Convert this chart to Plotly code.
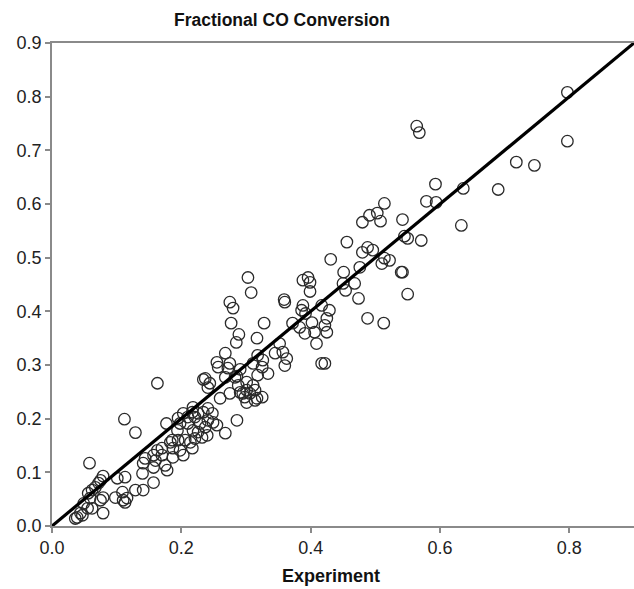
import plotly.graph_objects as go

experiment = [
    0.797, 0.797, 0.718, 0.746, 0.690, 0.636, 0.633, 0.593, 0.579, 0.594,
    0.564, 0.568, 0.542, 0.545, 0.550, 0.571, 0.542, 0.550, 0.514, 0.503,
    0.491, 0.480, 0.508, 0.456, 0.488, 0.480, 0.496, 0.431, 0.514, 0.522,
    0.510, 0.451, 0.476, 0.540, 0.450, 0.468, 0.454, 0.474, 0.488, 0.513,
    0.303, 0.308, 0.275, 0.280, 0.277, 0.328, 0.359, 0.388, 0.396, 0.399,
    0.399, 0.388, 0.386, 0.392, 0.417, 0.429, 0.425, 0.422, 0.372, 0.383,
    0.402, 0.360, 0.425, 0.406, 0.391, 0.409, 0.417, 0.422, 0.289, 0.285,
    0.317, 0.352, 0.357, 0.363, 0.360, 0.345, 0.318, 0.326, 0.325, 0.334,
    0.318, 0.275, 0.283, 0.288, 0.301, 0.311, 0.314, 0.301, 0.291, 0.298,
    0.301, 0.325, 0.317, 0.268, 0.255, 0.257, 0.268, 0.272, 0.291, 0.286,
    0.237, 0.244, 0.234, 0.241, 0.311, 0.306, 0.295, 0.275, 0.260, 0.314,
    0.163, 0.241, 0.218, 0.217, 0.203, 0.221, 0.226, 0.210, 0.195, 0.198,
    0.210, 0.234, 0.248, 0.241, 0.249, 0.255, 0.229, 0.237, 0.218, 0.226,
    0.240, 0.286, 0.268, 0.177, 0.194, 0.186, 0.195, 0.206, 0.214, 0.221,
    0.232, 0.187, 0.198, 0.217, 0.203, 0.170, 0.163, 0.157, 0.170, 0.160,
    0.144, 0.141, 0.157, 0.175, 0.187, 0.112, 0.129, 0.058, 0.140, 0.157,
    0.178, 0.183, 0.079, 0.075, 0.072, 0.067, 0.062, 0.056, 0.059, 0.049,
    0.055, 0.062, 0.044, 0.039, 0.036, 0.047, 0.079, 0.079, 0.101, 0.113,
    0.109, 0.098, 0.110, 0.116, 0.113, 0.129, 0.141, 0.075,
]
predicted = [
    0.808, 0.717, 0.678, 0.672, 0.627, 0.629, 0.560, 0.637, 0.605, 0.603,
    0.745, 0.733, 0.571, 0.540, 0.536, 0.532, 0.473, 0.432, 0.601, 0.583,
    0.579, 0.566, 0.568, 0.529, 0.519, 0.510, 0.514, 0.497, 0.499, 0.495,
    0.489, 0.473, 0.482, 0.473, 0.452, 0.452, 0.439, 0.424, 0.387, 0.378,
    0.463, 0.435, 0.417, 0.406, 0.378, 0.378, 0.422, 0.458, 0.463, 0.454,
    0.437, 0.411, 0.402, 0.396, 0.411, 0.402, 0.387, 0.374, 0.378, 0.370,
    0.379, 0.417, 0.361, 0.361, 0.359, 0.340, 0.303, 0.303, 0.357, 0.342,
    0.350, 0.340, 0.324, 0.312, 0.299, 0.322, 0.318, 0.309, 0.296, 0.284,
    0.281, 0.303, 0.277, 0.262, 0.268, 0.262, 0.253, 0.253, 0.249, 0.240,
    0.230, 0.240, 0.238, 0.322, 0.305, 0.296, 0.277, 0.294, 0.292, 0.279,
    0.275, 0.266, 0.273, 0.258, 0.303, 0.247, 0.247, 0.247, 0.238, 0.234,
    0.266, 0.219, 0.221, 0.212, 0.210, 0.203, 0.210, 0.203, 0.201, 0.191,
    0.191, 0.212, 0.210, 0.197, 0.193, 0.188, 0.191, 0.184, 0.178, 0.175,
    0.169, 0.197, 0.173, 0.191, 0.178, 0.160, 0.160, 0.160, 0.156, 0.163,
    0.165, 0.145, 0.141, 0.145, 0.132, 0.145, 0.141, 0.132, 0.132, 0.122,
    0.126, 0.117, 0.109, 0.113, 0.128, 0.199, 0.174, 0.117, 0.098, 0.081,
    0.104, 0.156, 0.093, 0.085, 0.080, 0.072, 0.067, 0.061, 0.052, 0.042,
    0.033, 0.033, 0.024, 0.016, 0.014, 0.020, 0.024, 0.053, 0.089, 0.091,
    0.063, 0.053, 0.048, 0.052, 0.044, 0.067, 0.067, 0.048,
]

# 1:1 parity line
parity = [0.0, 0.9]

y_ticks = [0.0, 0.1, 0.2, 0.3, 0.4, 0.5, 0.6, 0.7, 0.8, 0.9]
x_ticks = [0.0, 0.2, 0.4, 0.6, 0.8]

font_family = "Liberation Sans, Arial, sans-serif"

fig = go.Figure()
fig.add_trace(go.Scatter(
    x=experiment, y=predicted, mode="markers",
    marker=dict(symbol="circle", size=11.5, color="rgba(0,0,0,0)",
                line=dict(color="#2a2a2a", width=1.3)),
    showlegend=False, hoverinfo="x+y",
))
fig.add_trace(go.Scatter(
    x=parity, y=parity, mode="lines",
    line=dict(color="#000000", width=3.2),
    showlegend=False, hoverinfo="skip",
))

fig.update_layout(
    width=634, height=589,
    margin=dict(l=51.5, r=0, t=42.7, b=63.3),
    paper_bgcolor="white", plot_bgcolor="white",
    font=dict(family=font_family, size=18, color="#222222"),
    xaxis=dict(
        range=[0, 0.9], tickvals=x_ticks, tickformat=".1f",
        showgrid=False, zeroline=False,
        showline=True, linecolor="#8a8a8a", linewidth=1.5, mirror=True,
        ticks="outside", ticklen=5, tickcolor="#8a8a8a", tickwidth=1.5,
        tickfont=dict(size=18, color="#222222"),
    ),
    yaxis=dict(
        range=[0, 0.9], tickvals=y_ticks, tickformat=".1f",
        showgrid=False, zeroline=False,
        showline=True, linecolor="#8a8a8a", linewidth=1.5,
        ticks="outside", ticklen=5, tickcolor="#8a8a8a", tickwidth=1.5,
        tickfont=dict(size=18, color="#222222"),
    ),
    annotations=[
        dict(text="<b>Fractional CO Conversion</b>", xref="paper", yref="paper",
             x=0.395, y=1.0, yshift=11, xanchor="center", yanchor="bottom",
             showarrow=False, font=dict(size=17.5, color="#111111")),
        dict(text="<b>Experiment</b>", xref="paper", yref="paper",
             x=0.479, y=0, yshift=-38, xanchor="center", yanchor="top",
             showarrow=False, font=dict(size=18, color="#111111")),
    ],
)

# remove the browser's default 8px body margin so the figure fills the window
fig.write_html(
    "out.html",
    config={"displayModeBar": False},
    post_script="document.body.style.margin='0px'; document.body.style.overflow='hidden';",
)
